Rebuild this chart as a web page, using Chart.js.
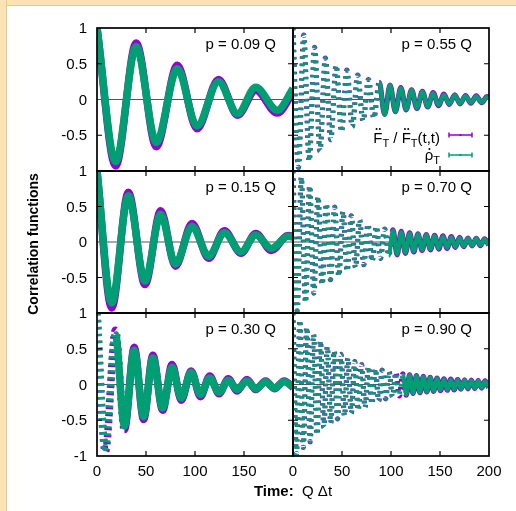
<!DOCTYPE html>
<html>
<head>
<meta charset="utf-8">
<script src="https://cdn.jsdelivr.net/npm/chart.js@4.4.1/dist/chart.umd.min.js"></script>
<style>
  html, body { margin: 0; padding: 0; background: #fff; }
  #wrap { position: relative; width: 516px; height: 511px; overflow: hidden; background: #fff; }
  #wrap canvas { position: absolute; left: 0; top: 0; }
  .band-top { position: absolute; left: 0; top: 0; width: 516px; height: 5px; background: #fbe4b3; border-bottom: 1px solid #e8c98e; }
  .band-left { position: absolute; left: 0; top: 0; width: 6px; height: 511px; background: #fbe4b3; border-right: 1px solid #e8c98e; }
</style>
</head>
<body>
<div id="wrap">
  <div class="band-top"></div>
  <div class="band-left"></div>
  <canvas id="c0" width="516" height="511"></canvas>
  <canvas id="c1" width="516" height="511"></canvas>
  <canvas id="c2" width="516" height="511"></canvas>
  <canvas id="c3" width="516" height="511"></canvas>
  <canvas id="c4" width="516" height="511"></canvas>
  <canvas id="c5" width="516" height="511"></canvas>
</div>
<script>
// Six stacked correlation-function panels: Fdd_T / Fdd_T(t,t) (violet) and rho-dot_T (green)
// versus time Q*dt for different momenta p.

const PURPLE = "#9400d3";
const GREEN = "#009e73";
const FONT = '"Liberation Sans", Arial, sans-serif';

// ---- p = 0.09 Q (turning points of the oscillation) ----
const t09 = [0, 19, 40, 60.5, 82, 102, 124, 143.5, 162, 184, 200];
const green09 = [1, -0.87, 0.74, -0.6, 0.43, -0.37, 0.25, -0.2, 0.17, -0.15, 0.15];
const purple09 = [1, -0.93, 0.79, -0.66, 0.48, -0.41, 0.28, -0.22, 0.13, -0.19, 0.1];

// ---- p = 0.15 Q ----
const t15 = [0, 15, 32, 49, 65, 80, 97, 114, 130, 147, 162, 178, 195, 200];
const green15 = [1, -0.86, 0.65, -0.55, 0.39, -0.31, 0.22, -0.2, 0.13, -0.14, 0.1, -0.09, 0.08, 0.07];
const purple15 = [1, -0.93, 0.7, -0.6, 0.44, -0.34, 0.26, -0.23, 0.16, -0.16, 0.12, -0.12, 0.09, 0.08];

// ---- p = 0.30 Q ----
const t30 = [0, 8.5, 18.8, 28, 38, 47.6, 57, 67, 76.6, 86, 96, 105.6, 115, 124.5, 134, 143, 153, 162, 172, 181, 191, 200];
const green30 = [1, -0.88, 0.7, -0.58, 0.48, -0.45, 0.37, -0.33, 0.24, -0.19, 0.17, -0.14, 0.09, -0.11, 0.06, -0.07, 0.05, -0.06, 0.04, -0.05, 0.04, -0.03];
const purple30 = [1, -0.94, 0.76, -0.63, 0.52, -0.49, 0.41, -0.36, 0.28, -0.22, 0.19, -0.17, 0.12, -0.13, 0.08, -0.09, 0.07, -0.07, 0.05, -0.06, 0.05, -0.04];

// ---- p = 0.55 Q ----
const t55 = [0, 5.5, 11, 16.5, 22, 27.5, 33, 38.5, 44, 49.5, 55, 60.5, 66, 71.5, 77, 82.5, 88, 93.5, 99, 104.5,
  110, 115.5, 121, 126.5, 132, 137.5, 143, 148.5, 154, 159.5, 165, 170.5, 176, 181.5, 187, 192.5, 198, 200];
const green55 = [1, -0.95, 0.9, -0.86, 0.73, -0.72, 0.58, -0.56, 0.48, -0.45, 0.41, -0.38, 0.34, -0.3, 0.28, -0.26, 0.24, -0.21, 0.2, -0.17,
  0.16, -0.14, 0.13, -0.12, 0.11, -0.1, 0.09, -0.08, 0.07, -0.065, 0.06, -0.055, 0.05, -0.045, 0.045, -0.04, 0.035, 0.02];
const purple55 = [1, -0.95, 0.9, -0.86, 0.73, -0.72, 0.58, -0.56, 0.48, -0.45, 0.41, -0.38, 0.34, -0.3, 0.28, -0.26, 0.24, -0.21, 0.2, -0.17,
  0.165, -0.145, 0.135, -0.125, 0.115, -0.105, 0.095, -0.085, 0.075, -0.07, 0.065, -0.06, 0.055, -0.05, 0.05, -0.045, 0.04, 0.025];

// ---- p = 0.70 Q ----
const t70 = [0, 4.25, 8.5, 12.75, 17, 21.25, 25.5, 29.75, 34, 38.25, 42.5, 46.75, 51, 55.25, 59.5, 63.75, 68, 72.25, 76.5, 80.75,
  85, 89.25, 93.5, 97.75, 102, 106.25, 110.5, 114.75, 119, 123.25, 127.5, 131.75, 136, 140.25, 144.5, 148.75, 153, 157.25,
  161.5, 165.75, 170, 174.25, 178.5, 182.75, 187, 191.25, 195.5, 199.75];
const green70 = [1, -0.97, 0.91, -0.85, 0.79, -0.72, 0.64, -0.6, 0.54, -0.53, 0.49, -0.48, 0.43, -0.41, 0.37, -0.36, 0.31, -0.32, 0.25, -0.27,
  0.22, -0.23, 0.18, -0.19, 0.16, -0.17, 0.14, -0.15, 0.12, -0.13, 0.11, -0.11, 0.1, -0.1, 0.09, -0.09, 0.08, -0.08,
  0.07, -0.07, 0.06, -0.06, 0.05, -0.05, 0.05, -0.045, 0.04, -0.04];
const purple70 = [1, -0.97, 0.91, -0.85, 0.79, -0.72, 0.64, -0.6, 0.54, -0.53, 0.49, -0.48, 0.43, -0.41, 0.37, -0.36, 0.31, -0.32, 0.25, -0.27,
  0.22, -0.23, 0.18, -0.19, 0.17, -0.18, 0.15, -0.16, 0.13, -0.14, 0.115, -0.12, 0.105, -0.11, 0.095, -0.1, 0.085, -0.09,
  0.075, -0.075, 0.065, -0.065, 0.055, -0.055, 0.05, -0.05, 0.045, -0.045];

// ---- p = 0.90 Q ----
const t90 = [0, 3.5, 7, 10.5, 14, 17.5, 21, 24.5, 28, 31.5, 35, 38.5, 42, 45.5, 49, 52.5, 56, 59.5, 63, 66.5,
  70, 73.5, 77, 80.5, 84, 87.5, 91, 94.5, 98, 101.5, 105, 108.5, 112, 115.5, 119, 122.5, 126, 129.5, 133, 136.5,
  140, 143.5, 147, 150.5, 154, 157.5, 161, 164.5, 168, 171.5, 175, 178.5, 182, 185.5, 189, 192.5, 196, 199.5];
const green90 = [1, -0.97, 0.9, -0.88, 0.8, -0.8, 0.7, -0.7, 0.61, -0.6, 0.53, -0.54, 0.47, -0.48, 0.42, -0.44, 0.37, -0.4, 0.32, -0.36,
  0.28, -0.32, 0.25, -0.27, 0.22, -0.23, 0.2, -0.2, 0.18, -0.17, 0.16, -0.15, 0.14, -0.14, 0.13, -0.12, 0.12, -0.11, 0.11, -0.1,
  0.095, -0.09, 0.085, -0.08, 0.075, -0.075, 0.07, -0.07, 0.065, -0.06, 0.06, -0.055, 0.055, -0.05, 0.05, -0.045, 0.045, -0.04];
const purple90 = [1, -0.97, 0.9, -0.88, 0.8, -0.8, 0.7, -0.7, 0.61, -0.6, 0.53, -0.54, 0.47, -0.48, 0.42, -0.44, 0.37, -0.4, 0.32, -0.36,
  0.28, -0.32, 0.25, -0.27, 0.22, -0.23, 0.2, -0.2, 0.18, -0.17, 0.17, -0.16, 0.15, -0.15, 0.135, -0.125, 0.125, -0.115, 0.115, -0.105,
  0.1, -0.095, 0.09, -0.085, 0.08, -0.08, 0.075, -0.075, 0.07, -0.065, 0.065, -0.06, 0.06, -0.055, 0.055, -0.05, 0.05, -0.045];

const panelTitles = ["p = 0.09 Q", "p = 0.55 Q", "p = 0.15 Q", "p = 0.70 Q", "p = 0.30 Q", "p = 0.90 Q"];
const yTickValues = [1, 0.5, 0, -0.5, -1];
const yTickLabels = ["1", "0.5", "0", "-0.5", "-1"];
const xTickValues = [0, 50, 100, 150, 200];
const xTickLabels = ["0", "50", "100", "150", "200"];

// plot-area boxes (left, top, right, bottom) for the 3x2 grid
const colEdges = [[97, 293], [293, 489]];
const rowEdges = [[28, 171], [171, 313], [313, 456]];

const panels = [
  { t: t09, purple: purple09, green: green09 },
  { t: t55, purple: purple55, green: green55 },
  { t: t15, purple: purple15, green: green15 },
  { t: t70, purple: purple70, green: green70 },
  { t: t30, purple: purple30, green: green30 },
  { t: t90, purple: purple90, green: green90 },
];

function steep(ctx, limit) {
  const dx = Math.abs(ctx.p1.x - ctx.p0.x);
  const dy = Math.abs(ctx.p1.y - ctx.p0.y);
  return dy > limit * Math.max(dx, 0.001);
}

function drawLegend(ctx, a) {
  const xr = a.left + 147;
  ctx.save();
  ctx.fillStyle = "#000";
  ctx.textAlign = "left";
  ctx.textBaseline = "alphabetic";
  // first entry: F-double-dot_T / F-double-dot_T(t,t)
  const big = "15px " + FONT, small = "11px " + FONT;
  const parts = [
    { s: "F", f: big, dd: true }, { s: "T", f: small, sub: true }, { s: " / ", f: big },
    { s: "F", f: big, dd: true }, { s: "T", f: small, sub: true }, { s: "(t,t)", f: big },
  ];
  let w = 0;
  parts.forEach(p => { ctx.font = p.f; p.w = ctx.measureText(p.s).width; w += p.w; });
  let x = xr - w;
  const b1 = a.top + 114.5;
  parts.forEach(p => {
    ctx.font = p.f;
    ctx.fillText(p.s, x, p.sub ? b1 + 4 : b1);
    if (p.dd) {
      ctx.beginPath();
      ctx.arc(x + p.w * 0.36, b1 - 13.5, 1, 0, Math.PI * 2);
      ctx.fill();
      ctx.beginPath();
      ctx.arc(x + p.w * 0.72, b1 - 13.5, 1, 0, Math.PI * 2);
      ctx.fill();
    }
    x += p.w;
  });
  // second entry: rho-dot_T
  ctx.font = big;
  const rw = ctx.measureText("\u03c1").width;
  ctx.font = small;
  const tw = ctx.measureText("T").width;
  const b2 = a.top + 132;
  const rx = xr - tw - rw;
  ctx.font = big;
  ctx.fillText("\u03c1", rx, b2);
  ctx.beginPath();
  ctx.arc(rx + rw * 0.55, b2 - 11, 1, 0, Math.PI * 2);
  ctx.fill();
  ctx.font = small;
  ctx.fillText("T", rx + rw, b2 + 4);

  // error-bar style samples
  [[a.top + 107, PURPLE], [a.top + 127, GREEN]].forEach(([y, c]) => {
    const x0 = a.left + 156, x1 = a.left + 179;
    ctx.strokeStyle = c;
    ctx.fillStyle = c;
    ctx.lineWidth = 1.5;
    ctx.beginPath();
    ctx.moveTo(x0, y); ctx.lineTo(x1, y);
    ctx.moveTo(x0, y - 2.5); ctx.lineTo(x0, y + 2.5);
    ctx.moveTo(x1, y - 2.5); ctx.lineTo(x1, y + 2.5);
    ctx.stroke();
    ctx.fillRect((x0 + x1) / 2 - 1, y - 1, 2, 2);
  });
  ctx.restore();
}

function panelPlugin(idx) {
  const row = Math.floor(idx / 2), col = idx % 2;
  return {
    id: "panelFrame" + idx,
    beforeDatasetsDraw(chart) {
      const { ctx, chartArea: a, scales } = chart;
      const y0 = scales.y.getPixelForValue(0);
      ctx.save();
      ctx.strokeStyle = "#555";
      ctx.lineWidth = 1.2;
      ctx.beginPath();
      ctx.moveTo(a.left, y0);
      ctx.lineTo(a.right, y0);
      ctx.stroke();
      ctx.restore();
    },
    afterDatasetsDraw(chart) {
      const { ctx, chartArea: a, scales } = chart;
      const xs = scales.x, ys = scales.y;
      ctx.save();
      // inward ticks on all four sides
      ctx.strokeStyle = "#000";
      ctx.lineWidth = 1.2;
      ctx.beginPath();
      [50, 100, 150].forEach(v => {
        const px = xs.getPixelForValue(v);
        ctx.moveTo(px, a.top); ctx.lineTo(px, a.top + 5);
        ctx.moveTo(px, a.bottom); ctx.lineTo(px, a.bottom - 5);
      });
      [0.5, -0.5].forEach(v => {
        const py = ys.getPixelForValue(v);
        ctx.moveTo(a.left, py); ctx.lineTo(a.left + 5, py);
        ctx.moveTo(a.right, py); ctx.lineTo(a.right - 5, py);
      });
      ctx.stroke();
      // frame
      ctx.lineWidth = 1.7;
      ctx.strokeRect(a.left, a.top, a.right - a.left, a.bottom - a.top);

      ctx.fillStyle = "#000";
      ctx.font = "15px " + FONT;
      // panel title
      ctx.textAlign = "right";
      ctx.textBaseline = "alphabetic";
      ctx.fillText(panelTitles[idx], a.right - 17, a.top + 21);

      // y tick labels on the left column
      if (col === 0) {
        ctx.textAlign = "right";
        ctx.textBaseline = "middle";
        yTickValues.forEach((v, i) => {
          if (v === -1 && row < 2) return;
          ctx.fillText(yTickLabels[i], a.left - 10, ys.getPixelForValue(v) + 1);
        });
      }
      // x tick labels on the bottom row
      if (row === 2) {
        ctx.textAlign = "center";
        ctx.textBaseline = "middle";
        xTickValues.forEach((v, i) => {
          if (v === 200 && col === 0) return;
          ctx.fillText(xTickLabels[i], xs.getPixelForValue(v), a.bottom + 16);
        });
      }
      // axis titles
      if (row === 2 && col === 0) {
        ctx.textBaseline = "alphabetic";
        ctx.textAlign = "left";
        ctx.font = "bold 15px " + FONT;
        const w1 = ctx.measureText("Time:  ").width;
        ctx.font = "15px " + FONT;
        const w2 = ctx.measureText("Q \u0394t").width;
        const x0 = a.right - (w1 + w2) / 2;
        ctx.font = "bold 15px " + FONT;
        ctx.fillText("Time:  ", x0, a.bottom + 40);
        ctx.font = "15px " + FONT;
        ctx.fillText("Q \u0394t", x0 + w1, a.bottom + 40);

        ctx.save();
        ctx.translate(a.left - 63, a.bottom - 212);
        ctx.rotate(-Math.PI / 2);
        ctx.textAlign = "center";
        ctx.textBaseline = "middle";
        ctx.font = "bold 14px " + FONT;
        ctx.fillText("Correlation functions", 0, 0);
        ctx.restore();
      }
      if (row === 0 && col === 1) drawLegend(ctx, a);
      ctx.restore();
    },
  };
}

panels.forEach((p, idx) => {
  const row = Math.floor(idx / 2), col = idx % 2;
  const [left, right] = colEdges[col];
  const [top, bottom] = rowEdges[row];
  const fast = col === 1;
  const limit = fast ? 6 : 10.5;
  const dash = fast ? [2.5, 4.8] : [2.5, 4.5];
  const mk = (vals, color, width) => ({
    data: p.t.map((t, i) => ({ x: t, y: vals[i] })),
    borderColor: color,
    borderWidth: width,
    pointRadius: 0,
    cubicInterpolationMode: "monotone",
    borderCapStyle: "butt",
    clip: 0,
    segment: { borderDash: ctx => (steep(ctx, limit) ? dash : undefined) },
  });
  new Chart(document.getElementById("c" + idx), {
    type: "line",
    data: {
      datasets: [
        mk(p.green, GREEN, fast ? 4.2 : 7.5),
        mk(p.purple, PURPLE, fast ? 5.2 : 7.5),
      ],
    },
    options: {
      responsive: false,
      animation: false,
      devicePixelRatio: 1,
      events: [],
      layout: { padding: { left: left, top: top, right: 516 - right, bottom: 511 - bottom } },
      plugins: { legend: { display: false }, tooltip: { enabled: false } },
      scales: {
        x: { type: "linear", min: 0, max: 200, display: false },
        y: { type: "linear", min: -1, max: 1, display: false },
      },
    },
    plugins: [panelPlugin(idx)],
  });
});
</script>
</body>
</html>
